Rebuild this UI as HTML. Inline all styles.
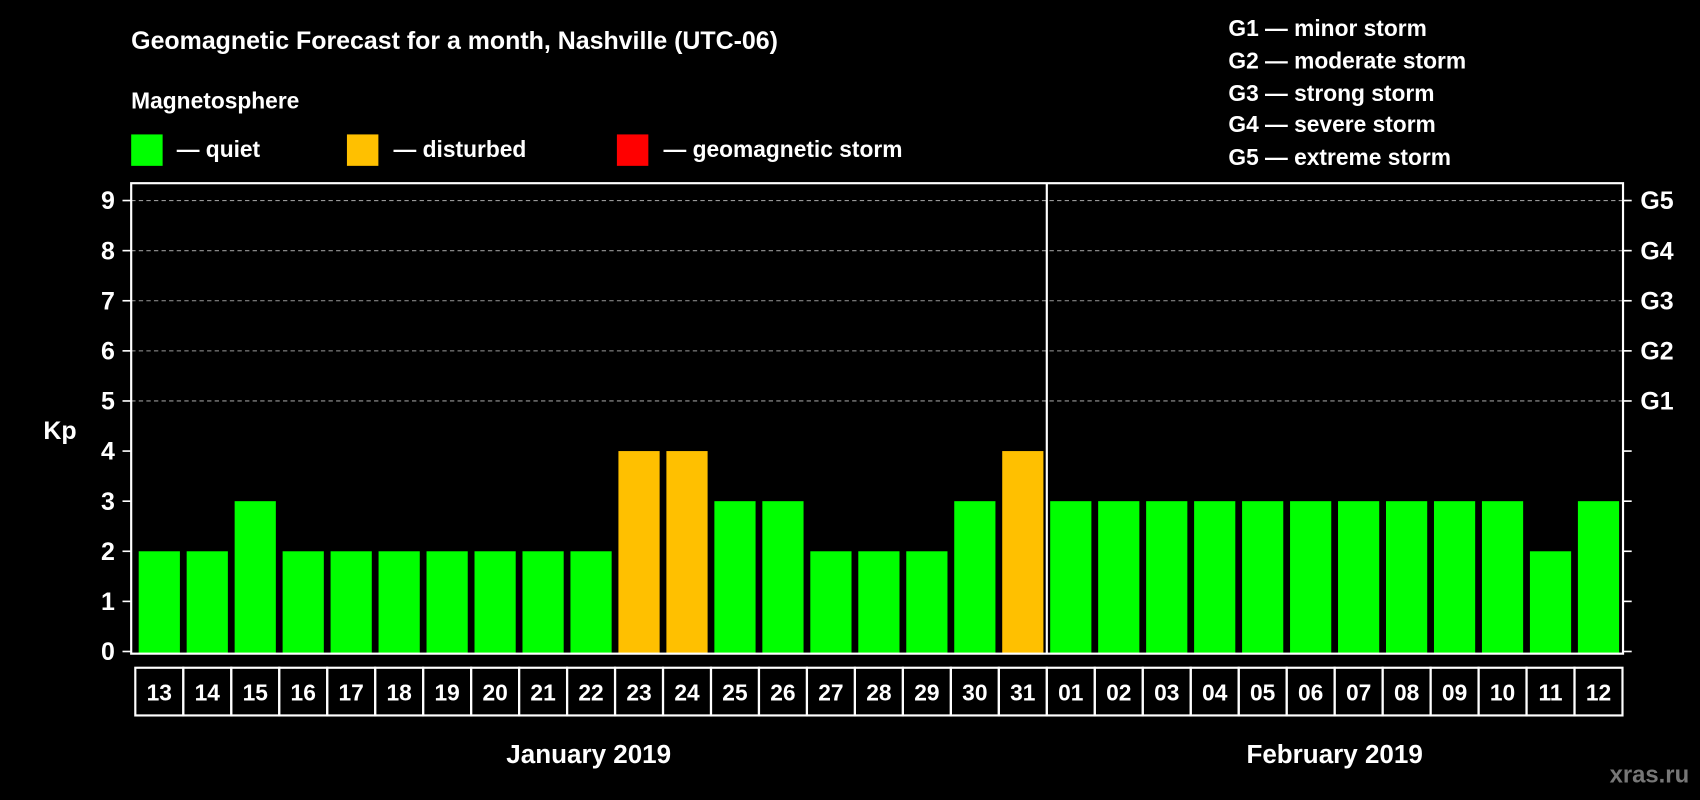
<!DOCTYPE html>
<html><head><meta charset="utf-8"><style>
html,body{margin:0;padding:0;background:#000;}
svg{display:block;font-family:"Liberation Sans",Arial,sans-serif;font-weight:bold;}
</style></head><body>
<svg id="chart" width="1700" height="800" viewBox="0 0 1568 738" preserveAspectRatio="none" xmlns="http://www.w3.org/2000/svg">
<rect width="1568" height="738" fill="#000"/>
<text x="121" y="45" fill="#fff" font-size="23">Geomagnetic Forecast for a month, Nashville (UTC-06)</text>
<text x="121" y="100" fill="#fff" font-size="21">Magnetosphere</text>
<rect x="121" y="124" width="29" height="29" fill="#00ff00"/>
<text x="163" y="145" fill="#fff" font-size="21">— quiet</text>
<rect x="320" y="124" width="29" height="29" fill="#ffc000"/>
<text x="363" y="145" fill="#fff" font-size="21">— disturbed</text>
<rect x="569" y="124" width="29" height="29" fill="#ff0000"/>
<text x="612" y="145" fill="#fff" font-size="21">— geomagnetic storm</text>
<g fill="#fff" font-size="21">
<text x="1133" y="33">G1 — minor storm</text>
<text x="1133" y="63">G2 — moderate storm</text>
<text x="1133" y="93">G3 — strong storm</text>
<text x="1133" y="122">G4 — severe storm</text>
<text x="1133" y="152">G5 — extreme storm</text>
</g>
<text x="40" y="405" fill="#fff" font-size="23">Kp</text>
<text x="543" y="704" fill="#fff" font-size="24" text-anchor="middle">January 2019</text>
<text x="1231" y="704" fill="#fff" font-size="24" text-anchor="middle">February 2019</text>
<text x="1558" y="722" fill="#777" font-size="22" text-anchor="end">xras.ru</text>
<g id="plot"></g>
</svg>
<script>
const days = ["13","14","15","16","17","18","19","20","21","22","23","24","25","26","27","28","29","30","31","01","02","03","04","05","06","07","08","09","10","11","12"];
const kp = [2,2,3,2,2,2,2,2,2,2,4,4,3,3,2,2,2,3,4,3,3,3,3,3,3,3,3,3,3,2,3];
const yTicks = [0,1,2,3,4,5,6,7,8,9];
const gLabels = ["G1","G2","G3","G4","G5"];
const gLevels = [5,6,7,8,9];
const febStartIndex = 19;

const NS="http://www.w3.org/2000/svg";
const g=document.getElementById('plot');
const L=121,R=1497,T=169,B=603,slot0=124.8,pitch=(1496.5-124.8)/days.length,bw=38;
const y=v=>601-v*(601-185)/9;
const x=i=>slot0+i*pitch;
function mk(t,a){const e=document.createElementNS(NS,t);for(const k in a)e.setAttribute(k,a[k]);g.appendChild(e);return e;}
function color(v){return v>=5?'#ff0000':(v>=4?'#ffc000':'#00ff00');}
gLevels.forEach(v=>{
  const l=mk('line',{x1:L,x2:R,y1:y(v),y2:y(v),stroke:'#999','stroke-dasharray':'4,3','stroke-width':1});
  
  
});
kp.forEach((v,i)=>{
  const r=mk('rect',{x:x(i)+pitch/2-bw/2,y:y(v),width:bw,height:y(0)-y(v)+2,fill:color(v)});
  
  
});
const box=mk('rect',{x:L,y:T,width:R-L,height:B-T,fill:'none',stroke:'#fff','stroke-width':2});


const dv=mk('line',{x1:x(febStartIndex),x2:x(febStartIndex),y1:T,y2:B,stroke:'#fff','stroke-width':2});


yTicks.forEach(v=>{
  const t1=mk('line',{x1:113,x2:L,y1:y(v),y2:y(v),stroke:'#fff','stroke-width':1.5});
  
  
  const t2=mk('line',{x1:R,x2:1505,y1:y(v),y2:y(v),stroke:'#fff','stroke-width':1.5});
  
  
  const tx=mk('text',{x:106,y:y(v)+8,fill:'#fff','font-size':23,'text-anchor':'end'});
  tx.textContent=v;
  
  
});
gLabels.forEach((s,i)=>{
  const tx=mk('text',{x:1513,y:y(gLevels[i])+8,fill:'#fff','font-size':23});
  tx.textContent=s;
  
  
});
days.forEach((d,i)=>{
  const c=mk('rect',{x:x(i),y:616,width:pitch,height:44,fill:'none',stroke:'#fff','stroke-width':2});
  
  
  const tx=mk('text',{x:x(i)+pitch/2,y:646,fill:'#fff','font-size':21,'text-anchor':'middle'});
  tx.textContent=d;
  
  
});
</script>
</body></html>
